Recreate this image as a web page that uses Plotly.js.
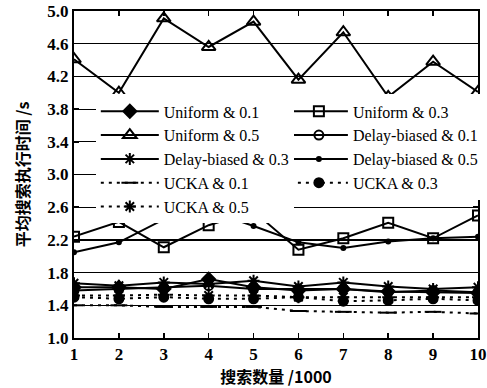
<!DOCTYPE html>
<html>
<head>
<meta charset="utf-8">
<script src="https://cdn.plot.ly/plotly-3.0.1.min.js"></script>
<style>html,body{margin:0;padding:0;background:#fff;}#chart{width:487px;height:388px;}</style>
</head>
<body>
<div id="chart"></div>
<script>
var xVals = [1, 2, 3, 4, 5, 6, 7, 8, 9, 10];
var uniform01 = [1.62, 1.62, 1.60, 1.72, 1.62, 1.58, 1.60, 1.57, 1.56, 1.55];
var uniform03 = [2.24, 2.42, 2.11, 2.38, 2.55, 2.08, 2.22, 2.41, 2.22, 2.50];
var uniform05 = [4.41, 4.00, 4.91, 4.56, 4.87, 4.16, 4.74, 3.95, 4.38, 4.01];
var delay01 = [1.58, 1.60, 1.62, 1.64, 1.60, 1.60, 1.60, 1.56, 1.58, 1.56];
var delay03 = [1.67, 1.64, 1.68, 1.66, 1.70, 1.63, 1.68, 1.63, 1.60, 1.62];
var delay05 = [2.05, 2.17, 2.45, 2.56, 2.37, 2.17, 2.10, 2.18, 2.22, 2.24];
var ucka01 = [1.40, 1.40, 1.38, 1.38, 1.38, 1.33, 1.32, 1.31, 1.32, 1.30];
var ucka03 = [1.50, 1.48, 1.50, 1.48, 1.48, 1.50, 1.45, 1.46, 1.48, 1.46];
var ucka05 = [1.52, 1.52, 1.53, 1.52, 1.52, 1.50, 1.50, 1.50, 1.50, 1.50];
var yTicks = [1.0, 1.4, 1.8, 2.2, 2.6, 3.0, 3.4, 3.8, 4.2, 4.6, 5.0];

var K = '#000';
function tr(name, y, sym, size, dash, legend, lw) {
  return {
    type: 'scatter', mode: 'lines+markers', name: name, x: xVals, y: y,
    legend: legend, legendgroup: name,
    line: {color: K, width: lw || 2, dash: dash},
    marker: {symbol: sym, size: size, color: K, line: {color: K, width: 2}}
  };
}
var dotDash = '3px,5px';
// right column -> 'legend' (drawn first), left column -> 'legend2' (drawn on top)
var data = [
  tr('Uniform & 0.1', uniform01, 'diamond', 10, 'solid', 'legend2'),
  tr('Uniform & 0.5', uniform05, 'triangle-up-open', 12, 'solid', 'legend2'),
  tr('Delay-biased & 0.3', delay03, 'asterisk-open', 10, 'solid', 'legend2'),
  tr('UCKA & 0.1', ucka01, 'line-ew-open', 12, dotDash, 'legend2'),
  tr('UCKA & 0.5', ucka05, 'asterisk-open', 10, dotDash, 'legend2'),
  tr('Uniform & 0.3', uniform03, 'square-open', 10, 'solid', 'legend'),
  tr('Delay-biased & 0.1', delay01, 'circle-open', 9, 'solid', 'legend'),
  tr('Delay-biased & 0.5', delay05, 'circle', 4, 'solid', 'legend'),
  tr('UCKA & 0.3', ucka03, 'circle', 9, dotDash, 'legend')
];

var serif = 'Liberation Serif, Times New Roman, serif';
var cjk = 'Noto Sans CJK SC, sans-serif';
var legCommon = {
  orientation: 'v', bgcolor: '#fff', borderwidth: 0,
  font: {family: serif, size: 16, color: K},
  itemwidth: 58, traceorder: 'grouped', tracegroupgap: 0,
  xanchor: 'left', yanchor: 'top', y: 0.745
};
var layout = {
  width: 487, height: 388,
  margin: {l: 74, r: 9, t: 11, b: 50, autoexpand: false},
  paper_bgcolor: '#fff', plot_bgcolor: '#fff',
  showlegend: true,
  legend2: Object.assign({}, legCommon, {x: 0.054}),
  legend: Object.assign({}, legCommon, {x: 0.522}),
  xaxis: {
    range: [1, 10], tickvals: xVals, ticktext: xVals.map(String),
    ticks: 'inside', ticklen: 5, tickwidth: 1.5, tickcolor: K,
    showline: true, linewidth: 2, linecolor: K, mirror: 'ticks',
    showgrid: false, zeroline: false, automargin: false,
    tickfont: {family: serif, size: 17, color: K, weight: 'bold'},
    title: {text: '搜索数量 /1000', font: {family: cjk, size: 16, color: K, weight: 'bold'}, standoff: 0}
  },
  yaxis: {
    range: [1.0, 5.0], tickvals: yTicks, ticktext: yTicks.map(function (v) { return v.toFixed(1); }),
    ticks: 'inside', ticklen: 5, tickwidth: 1.5, tickcolor: K,
    showline: true, linewidth: 2, linecolor: K, mirror: 'ticks',
    showgrid: true, gridcolor: K, gridwidth: 1.2, zeroline: false, automargin: false,
    tickfont: {family: serif, size: 17, color: K, weight: 'bold'},
    title: {text: '平均搜索执行时间 /s', font: {family: cjk, size: 16, color: K, weight: 'bold'}, standoff: 14}
  }
};
Plotly.newPlot('chart', data, layout, {displayModeBar: false, staticPlot: true});
</script>
</body>
</html>
